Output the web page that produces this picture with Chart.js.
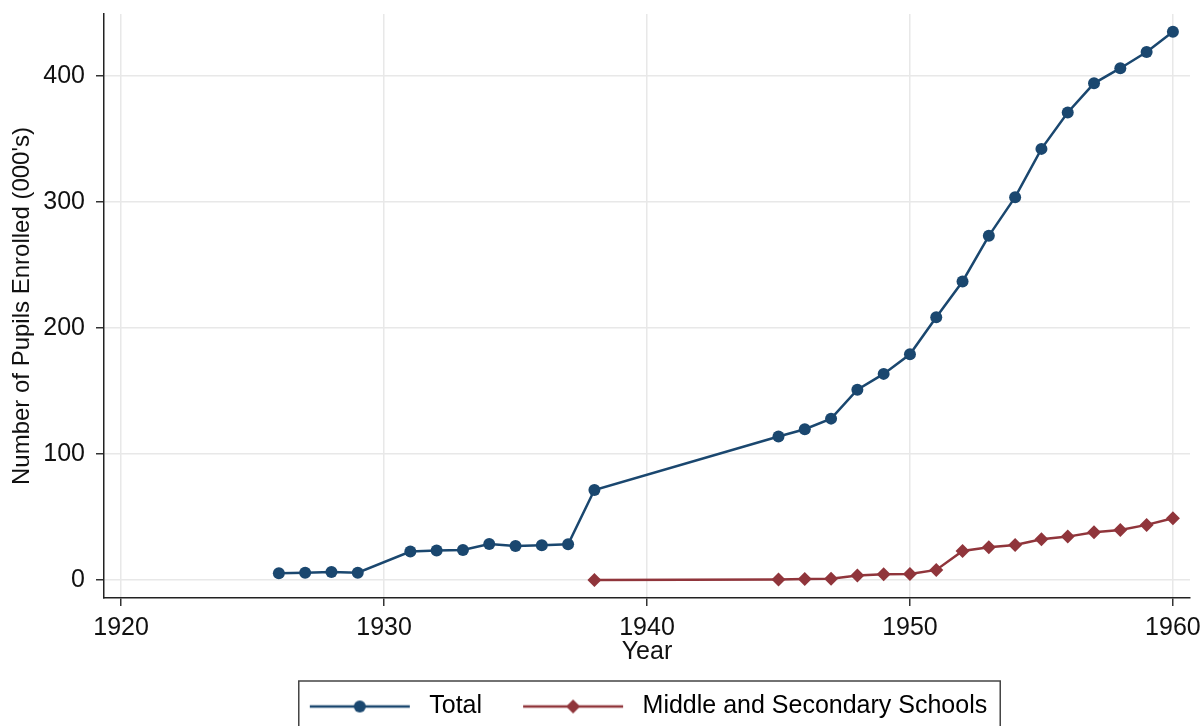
<!DOCTYPE html>
<html>
<head>
<meta charset="utf-8">
<script src="https://cdn.jsdelivr.net/npm/chart.js@4.4.1/dist/chart.umd.min.js"></script>
<style>
  html, body { margin: 0; padding: 0; background: #fff; }
</style>
</head>
<body>
<canvas id="myChart" width="1201" height="726"></canvas>
<script>
// data (thousands of pupils)
const totalYears = [1926, 1927, 1928, 1929, 1931, 1932, 1933, 1934, 1935, 1936, 1937, 1938,
  1945, 1946, 1947, 1948, 1949, 1950, 1951, 1952, 1953, 1954, 1955, 1956, 1957, 1958, 1959, 1960];
const totalValues = [5.3, 5.8, 6.3, 5.8, 22.5, 23.3, 23.8, 28.6, 27, 27.5, 28.3, 71.4,
  113.8, 119.6, 128, 151, 163.5, 179, 208.5, 236.8, 273, 303.7, 342, 370.9, 394, 406, 418.8, 435];
const midYears = [1938, 1945, 1946, 1947, 1948, 1949, 1950, 1951, 1952, 1953, 1954, 1955, 1956, 1957, 1958, 1959, 1960];
const midValues = [0, 0.3, 0.8, 1, 3.5, 4.5, 4.7, 8, 23, 26, 27.8, 32.3, 34.4, 37.8, 39.7, 43.7, 49];
const xTicks = [1920, 1930, 1940, 1950, 1960];
const yTicks = [0, 100, 200, 300, 400];
const seriesNames = ['Total', 'Middle and Secondary Schools'];

const navy = '#1a476f';
const maroon = '#90353b';
const font = "'Liberation Sans', Arial, sans-serif";

const toPoints = (xs, ys) => xs.map((x, i) => ({x: x, y: ys[i]}));

// legend symbol: line with marker in the middle
function legendIcon(color, style) {
  const c = document.createElement('canvas');
  c.width = 200; c.height = 24;
  const g = c.getContext('2d');
  g.strokeStyle = color; g.lineWidth = 2.5;
  g.beginPath(); g.moveTo(62, 12); g.lineTo(162, 12); g.stroke();
  g.fillStyle = color;
  g.beginPath();
  if (style === 'circle') {
    g.arc(112, 12, 6, 0, Math.PI * 2);
  } else {
    g.moveTo(112, 5); g.lineTo(119, 12); g.lineTo(112, 19); g.lineTo(105, 12); g.closePath();
  }
  g.fill();
  return c;
}
const icons = [legendIcon(navy, 'circle'), legendIcon(maroon, 'diamond')];

const legendBox = {
  id: 'legendBox',
  afterLayout(chart) {
    chart.legend.left -= 14;
    chart.legend.right -= 14;
  },
  afterDraw(chart) {
    const lg = chart.legend;
    const pad = lg.options.labels.padding;
    const x1 = (lg.left + pad + lg.right - lg.lineWidths[0]) / 2;
    const left = x1 + 20;
    const right = x1 + lg.lineWidths[0] - pad + 13;
    const top = lg.top + pad - 13;
    const ctx = chart.ctx;
    ctx.save();
    ctx.strokeStyle = '#444';
    ctx.lineWidth = 1.5;
    ctx.strokeRect(left, top, right - left, 80);
    ctx.restore();
  }
};

const ctx = document.getElementById('myChart');
new Chart(ctx, {
  type: 'line',
  data: {
    datasets: [{
      label: seriesNames[0],
      data: toPoints(totalYears, totalValues),
      borderColor: navy,
      backgroundColor: navy,
      borderWidth: 2.5,
      pointStyle: 'circle',
      pointRadius: 6,
      pointBorderWidth: 0,
      pointBackgroundColor: navy
    }, {
      label: seriesNames[1],
      data: toPoints(midYears, midValues),
      borderColor: maroon,
      backgroundColor: maroon,
      borderWidth: 2.5,
      pointStyle: 'rectRot',
      pointRadius: 7,
      pointBorderWidth: 0,
      pointBackgroundColor: maroon
    }]
  },
  options: {
    responsive: false,
    animation: false,
    layout: { padding: { top: 14, right: 11, bottom: -3, left: 0 } },
    plugins: {
      tooltip: { enabled: false },
      legend: {
        position: 'bottom',
        fullSize: false,
        labels: {
          usePointStyle: true,
          pointStyleWidth: 138,
          padding: 10,
          color: '#111',
          font: { family: font, size: 25 },
          generateLabels: (chart) => chart.data.datasets.map((ds, i) => ({
            text: ds.label,
            fillStyle: ds.borderColor,
            strokeStyle: ds.borderColor,
            lineWidth: 0,
            pointStyle: icons[i],
            hidden: false,
            datasetIndex: i
          }))
        }
      }
    },
    scales: {
      x: {
        type: 'linear',
        min: 1919.35,
        max: 1960.65,
        afterBuildTicks: (s) => { s.ticks = xTicks.map(v => ({value: v})); },
        afterFit: (s) => { s.height = 86; s.paddingLeft = 0; s.paddingRight = 0; },
        ticks: {
          callback: (v) => String(v),
          color: '#111',
          padding: 7,
          maxRotation: 0,
          font: { family: font, size: 25 }
        },
        grid: { color: '#e8e8e8', lineWidth: 1.5, tickLength: 8, tickColor: '#333', tickWidth: 1.5 },
        border: { display: true, color: '#222', width: 1.5 },
        title: {
          display: true,
          text: 'Year',
          color: '#111',
          font: { family: font, size: 25, lineHeight: 1 },
          padding: { top: 0, bottom: 19 }
        }
      },
      y: {
        min: -14.3,
        max: 449,
        afterBuildTicks: (s) => { s.ticks = yTicks.map(v => ({value: v})); },
        afterFit: (s) => { s.width = 104; s.paddingTop = 0; s.paddingBottom = 0; },
        ticks: {
          callback: (v) => String(v),
          color: '#111',
          padding: 11,
          font: { family: font, size: 25 }
        },
        grid: { color: '#e8e8e8', lineWidth: 1.5, tickLength: 8, tickColor: '#333', tickWidth: 1.5 },
        border: { display: true, color: '#222', width: 1.5 },
        title: {
          display: true,
          text: "Number of Pupils Enrolled (000's)",
          color: '#111',
          font: { family: font, size: 24, lineHeight: 1 },
          padding: { top: 10, bottom: 0 }
        }
      }
    }
  },
  plugins: [legendBox]
});
</script>
</body>
</html>
